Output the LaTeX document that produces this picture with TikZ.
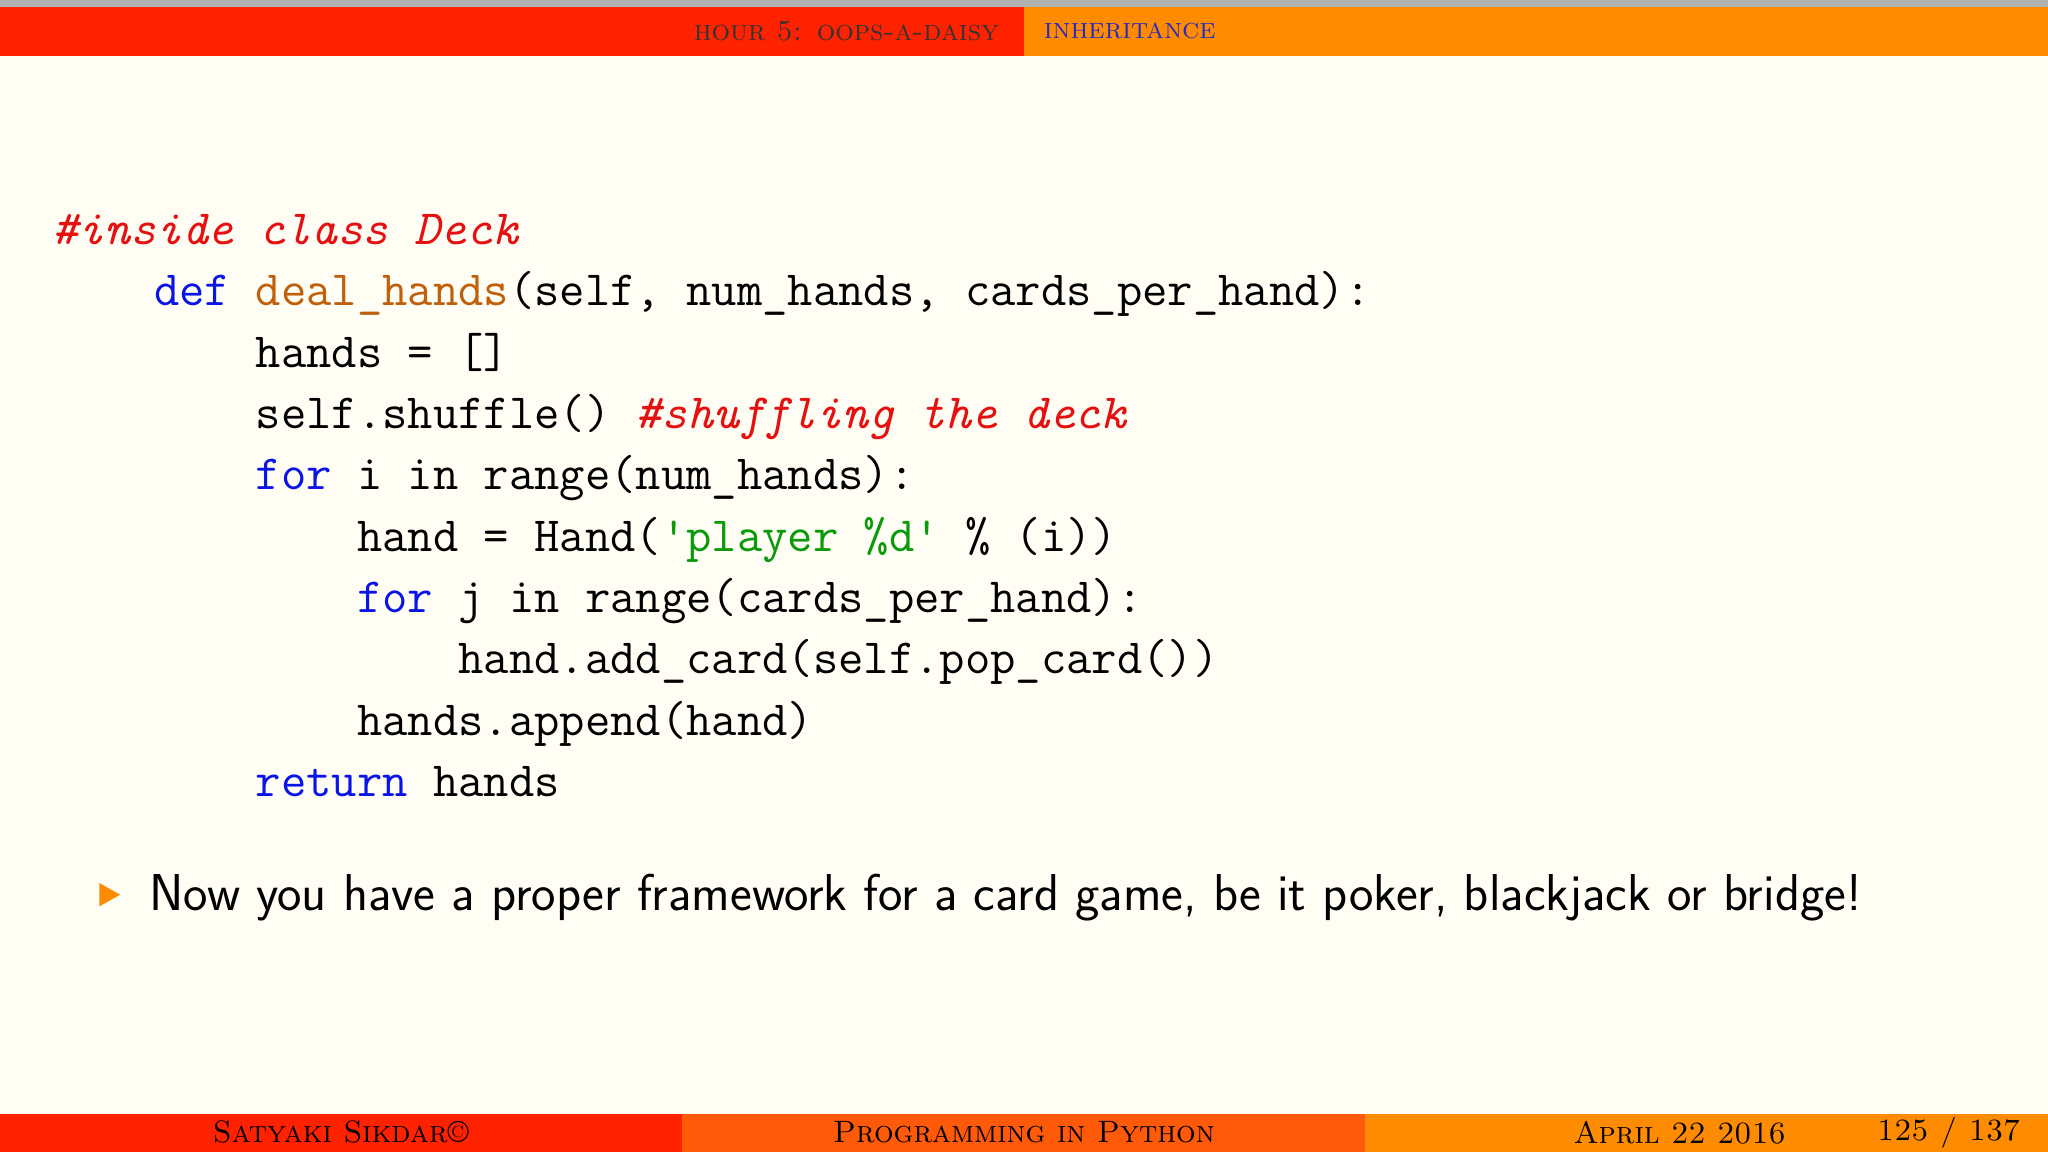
\documentclass[tikz,border=0pt]{standalone}
\usepackage{fontspec}
\definecolor{bg}{HTML}{FFFDF4}
\definecolor{barred}{HTML}{FF2200}
\definecolor{barorange}{HTML}{FF8C00}
\definecolor{barmid}{HTML}{FF5A0A}
\definecolor{kw}{HTML}{0A14E6}
\definecolor{fn}{HTML}{C0600A}
\definecolor{str}{HTML}{0A9A0A}
\definecolor{cm}{HTML}{E61010}
\definecolor{hdrblue}{HTML}{2A2AC0}
\begin{document}
\begin{tikzpicture}[x=0.013061cm,y=-0.013061cm,
  code/.style={anchor=base west,inner sep=0,font=\fontsize{14}{16}\selectfont\ttfamily},
  hdr/.style={inner sep=0,font=\fontsize{8.3}{9}\selectfont\scshape},
  ftr/.style={inner sep=0,font=\fontsize{8.8}{11}\selectfont\scshape}]
\fill[bg] (0,0) rectangle (1568,882);
\useasboundingbox (0,0) rectangle (1568,882);
\fill[gray!60] (0,0) rectangle (1568,5);
\fill[barred] (0,5) rectangle (784,43);
\fill[barorange] (784,5) rectangle (1568,43);
\node[hdr,text=black!80] (h1) at (648,24) {hour 5: oops-a-daisy};
\node[hdr,text=hdrblue] (h2) at (865,24) {inheritance};
\fill[barred] (0,853) rectangle (522,882);
\fill[barmid] (522,853) rectangle (1045,882);
\fill[barorange] (1045,853) rectangle (1568,882);
\node[ftr] (f1) at (261,867) {Satyaki Sikdar\textcopyright};
\node[ftr] (f2) at (784,867) {Programming in Python};
\node[ftr] (f3) at (1286,867) {April 22 2016};
\node[ftr] (f4) at (1492,867) {125 / 137};
\node[code] (l1) at (40,187) {\color{cm}\itshape\#inside class Deck};
\node[code] (l2) at (40,234) {\phantom{xxxx}{\color{kw}def} {\color{fn}deal\_hands}(self, num\_hands, cards\_per\_hand):};
\node[code] (l3) at (40,281) {\phantom{xxxxxxxx}hands = []};
\node[code] (l4) at (40,328) {\phantom{xxxxxxxx}self.shuffle() {\color{cm}\itshape\#shuffling the deck}};
\node[code] (l5) at (40,375) {\phantom{xxxxxxxx}{\color{kw}for} i in range(num\_hands):};
\node[code] (l6) at (40,422) {\phantom{xxxxxxxxxxxx}hand = Hand({\color{str}'player \%d'} \% (i))};
\node[code] (l7) at (40,469) {\phantom{xxxxxxxxxxxx}{\color{kw}for} j in range(cards\_per\_hand):};
\node[code] (l8) at (40,516) {\phantom{xxxxxxxxxxxxxxxx}hand.add\_card(self.pop\_card())};
\node[code] (l9) at (40,563) {\phantom{xxxxxxxxxxxx}hands.append(hand)};
\node[code] (l10) at (40,610) {\phantom{xxxxxxxx}{\color{kw}return} hands};
\fill[barorange] (76,676) -- (92,685) -- (76,694) -- cycle;
\node[anchor=base west,inner sep=0,font=\fontsize{17}{20}\selectfont\sffamily] (b1) at (114,697) {\resizebox{17.12cm}{!}{Now you have a proper framework for a card game, be it poker, blackjack or bridge!}};
\end{tikzpicture}
\end{document}
